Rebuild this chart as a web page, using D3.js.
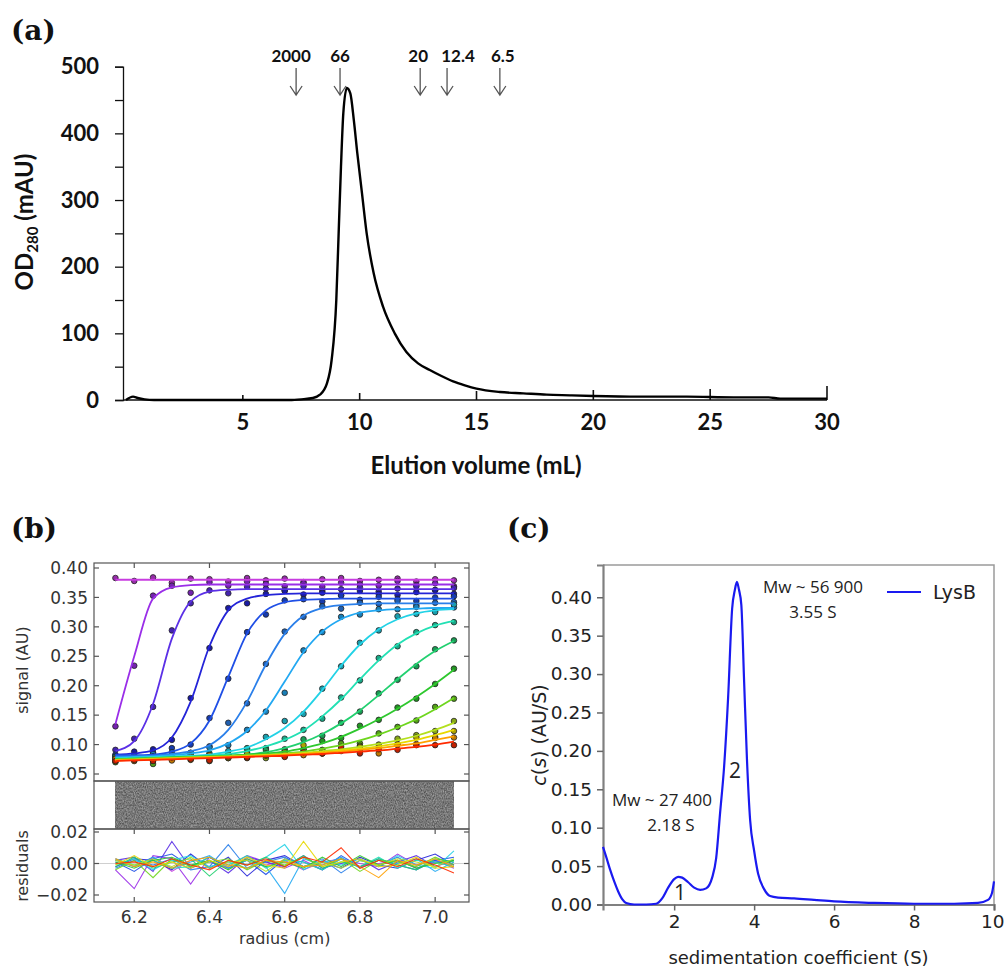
<!DOCTYPE html>
<html>
<head>
<meta charset="utf-8">
<script src="https://cdn.jsdelivr.net/npm/d3@7/dist/d3.min.js"></script>
<style>
  body { margin: 0; background: #fff; }
  svg { display: block; }
</style>
</head>
<body>
<div id="chart"></div>
<script>
// ---------- (a) size exclusion chromatogram ----------
const elutionVolume = [0, 0.3, 0.5, 0.8, 1.2, 3, 5, 6, 7, 7.5, 8, 8.3, 8.6, 8.8, 9.0, 9.1, 9.2, 9.3, 9.45, 9.6, 9.75, 9.9, 10.1, 10.3, 10.6, 11.0, 11.5, 12.0, 12.5, 13.0, 13.5, 14.0, 14.5, 15, 16, 17, 18, 19, 20, 22, 24, 26, 27.5, 28, 30];
const od280 = [0, 5, 3, 1, 0, 0, 0, 0, 0, 1, 3, 8, 25, 60, 150, 250, 350, 430, 468, 460, 420, 370, 310, 250, 190, 140, 100, 72, 55, 45, 36, 28, 22, 17, 12, 10, 8, 7, 6, 5, 5, 4, 4, 2, 2];
const markerVolumes = [7.28, 9.16, 12.59, 13.74, 16.0];
const markerLabels = ["2000", "66", "20", "12.4", "6.5"];
const elutionTicks = [5, 10, 15, 20, 25, 30];
const odTicks = [0, 100, 200, 300, 400, 500];
const odMinorTicks = [50, 150, 250, 350, 450];

// ---------- (b) sedimentation velocity scans ----------
const radius = [6.15, 6.20, 6.25, 6.30, 6.35, 6.40, 6.45, 6.50, 6.55, 6.60, 6.65, 6.70, 6.75, 6.80, 6.85, 6.90, 6.95, 7.00, 7.05];
const scanFits = [
  [0.380, 0.380, 0.380, 0.380, 0.380, 0.380, 0.380, 0.380, 0.380, 0.380, 0.380, 0.380, 0.380, 0.380, 0.380, 0.380, 0.380, 0.380, 0.380],
  [0.135, 0.250, 0.348, 0.367, 0.371, 0.372, 0.372, 0.372, 0.372, 0.372, 0.372, 0.372, 0.372, 0.372, 0.372, 0.372, 0.372, 0.372, 0.372],
  [0.089, 0.106, 0.169, 0.280, 0.343, 0.360, 0.363, 0.364, 0.364, 0.364, 0.364, 0.364, 0.364, 0.364, 0.364, 0.364, 0.364, 0.364, 0.364],
  [0.083, 0.085, 0.090, 0.112, 0.173, 0.267, 0.328, 0.348, 0.354, 0.356, 0.357, 0.357, 0.357, 0.357, 0.357, 0.357, 0.357, 0.357, 0.357],
  [0.082, 0.082, 0.083, 0.088, 0.102, 0.141, 0.215, 0.289, 0.328, 0.342, 0.346, 0.347, 0.348, 0.348, 0.348, 0.348, 0.348, 0.348, 0.348],
  [0.080, 0.080, 0.081, 0.084, 0.089, 0.099, 0.125, 0.173, 0.236, 0.288, 0.319, 0.332, 0.337, 0.339, 0.340, 0.340, 0.340, 0.340, 0.340],
  [0.078, 0.079, 0.080, 0.082, 0.085, 0.090, 0.102, 0.123, 0.158, 0.207, 0.257, 0.292, 0.313, 0.324, 0.328, 0.330, 0.331, 0.332, 0.332],
  [0.077, 0.078, 0.079, 0.080, 0.081, 0.083, 0.088, 0.095, 0.109, 0.128, 0.156, 0.193, 0.234, 0.270, 0.296, 0.313, 0.323, 0.328, 0.330],
  [0.076, 0.077, 0.078, 0.079, 0.080, 0.081, 0.084, 0.089, 0.097, 0.108, 0.124, 0.148, 0.177, 0.211, 0.243, 0.270, 0.289, 0.302, 0.310],
  [0.075, 0.076, 0.077, 0.078, 0.079, 0.080, 0.081, 0.083, 0.087, 0.094, 0.104, 0.118, 0.136, 0.158, 0.184, 0.211, 0.237, 0.259, 0.276],
  [0.075, 0.076, 0.077, 0.078, 0.079, 0.080, 0.081, 0.083, 0.085, 0.088, 0.094, 0.102, 0.113, 0.127, 0.143, 0.161, 0.181, 0.203, 0.227],
  [0.074, 0.075, 0.076, 0.077, 0.078, 0.079, 0.080, 0.082, 0.083, 0.085, 0.088, 0.093, 0.099, 0.107, 0.117, 0.129, 0.143, 0.160, 0.179],
  [0.074, 0.075, 0.076, 0.077, 0.078, 0.079, 0.080, 0.081, 0.082, 0.084, 0.086, 0.089, 0.092, 0.096, 0.101, 0.107, 0.115, 0.125, 0.137],
  [0.073, 0.074, 0.075, 0.076, 0.077, 0.078, 0.079, 0.080, 0.082, 0.083, 0.085, 0.087, 0.090, 0.093, 0.097, 0.102, 0.108, 0.116, 0.125],
  [0.073, 0.074, 0.075, 0.076, 0.077, 0.078, 0.079, 0.080, 0.081, 0.083, 0.084, 0.086, 0.088, 0.091, 0.094, 0.098, 0.102, 0.108, 0.114],
  [0.072, 0.073, 0.074, 0.075, 0.076, 0.077, 0.078, 0.079, 0.080, 0.081, 0.083, 0.084, 0.086, 0.088, 0.090, 0.093, 0.096, 0.100, 0.105]
];
// residuals in 1/1000 AU (data point minus fit)
const scanResidualsMilli = [
  [3, -2, 4, -5, 2, 1, -3, 3, -1, 2, -4, 1, 3, -2, 0, 2, -3, 1, -1],
  [-4, -16, 5, 3, -13, 4, -2, 5, 1, -3, 2, -4, 3, 0, -2, 6, -1, 2, -3],
  [2, 4, -5, 14, -3, 2, -6, 4, 1, -2, 5, -3, 0, 3, -4, 1, 5, -2, 2],
  [-2, 3, 2, -4, 6, -3, 4, -8, 2, 5, -2, 1, -3, 4, -1, -3, 2, 6, -1],
  [1, -5, 3, 6, -2, 4, -3, 2, -7, 3, 1, -4, 5, -2, 3, -1, -4, 2, 4],
  [-3, 2, -1, 3, -4, -2, 12, -3, 1, 4, -2, 3, -6, 2, -1, 4, -3, 1, 2],
  [2, -2, 4, -3, 1, 5, -3, 2, -2, -19, 3, -1, 4, -3, 2, 0, 3, -5, 1],
  [-1, 3, -4, 2, 5, -2, 1, -3, 4, 12, -4, 2, -1, 3, -2, 5, -1, -3, 8],
  [3, -1, 2, -3, -2, 4, -1, 5, -3, 2, 1, -4, 3, -2, 4, -3, 2, 1, -2],
  [-2, 4, -3, 1, 3, -8, 2, -1, 4, -2, 5, -3, 1, -2, 3, -1, -4, 3, 1],
  [1, -3, 2, 4, -1, 2, -4, 3, -2, 1, -3, 4, -2, 5, -1, 2, -3, 0, 2],
  [-4, 2, -9, 3, -2, 1, 3, -4, 2, -1, 4, -2, 3, -5, 2, 1, -2, 4, -1],
  [2, -1, 3, -2, 4, -3, 1, 2, -5, 3, -2, 1, -3, 2, -1, 3, 1, -2, 3],
  [-1, 5, -2, 1, -3, 2, -2, 4, -1, -3, 14, -2, 1, 3, -2, -1, 4, -3, -2],
  [3, -2, 1, -3, 2, 4, -1, -3, 2, 1, -2, -1, 3, -2, -9, 2, -1, 3, -2],
  [0, 1, -2, 3, -1, -4, 2, -1, 3, -2, 4, 1, 10, -3, 2, -2, 3, -1, -6]
];
const scanColors = ["#c83ce0", "#9a2ee8", "#5b30e6", "#2424d8", "#1f4fe6", "#2a7fea", "#22a8f2", "#22d2e6",
                    "#22e0b4", "#22d070", "#2ec82e", "#6ed61e", "#b4e01e", "#e8d800", "#ffa000", "#ff2a00"];
const signalTicks = [0.05, 0.10, 0.15, 0.20, 0.25, 0.30, 0.35, 0.40];
const residualTicks = [-0.02, 0.00, 0.02];
const radiusTicks = [6.2, 6.4, 6.6, 6.8, 7.0];

// ---------- (c) c(s) distribution ----------
const sedCoeff = [0.22, 0.3, 0.4, 0.5, 0.6, 0.7, 0.8, 1.0, 1.3, 1.55, 1.7, 1.85, 2.0, 2.1, 2.2, 2.35, 2.5, 2.65, 2.8, 2.95, 3.05, 3.15, 3.25, 3.35, 3.45, 3.52, 3.57, 3.62, 3.68, 3.75, 3.82, 3.9, 4.0, 4.1, 4.25, 4.4, 4.6, 5.0, 5.5, 6.0, 7.0, 8.0, 9.0, 9.6, 9.85, 9.95, 10.0];
const csValues = [0.075, 0.062, 0.045, 0.030, 0.017, 0.007, 0.002, 0.0, 0.0, 0.001, 0.008, 0.022, 0.033, 0.036, 0.035, 0.029, 0.022, 0.019, 0.021, 0.035, 0.06, 0.12, 0.18, 0.27, 0.385, 0.41, 0.42, 0.41, 0.39, 0.29, 0.19, 0.11, 0.07, 0.04, 0.02, 0.011, 0.009, 0.008, 0.006, 0.004, 0.002, 0.001, 0.001, 0.002, 0.006, 0.015, 0.03];
const sedTicks = [2, 4, 6, 8, 10];
const csTicks = [0.00, 0.05, 0.10, 0.15, 0.20, 0.25, 0.30, 0.35, 0.40];

const W = 1004, H = 969;
const svg = d3.select("#chart").append("svg").attr("width", W).attr("height", H);
const defs = svg.append("defs");

// panel letters
const letterFont = "'DejaVu Serif', serif";
[["(a)", 11, 40], ["(b)", 11, 538], ["(c)", 507, 538]].forEach(([t, x, y]) => {
  svg.append("text").attr("x", x).attr("y", y).text(t)
    .attr("font-family", letterFont).attr("font-weight", "bold").attr("font-size", 28).attr("fill", "#111");
});

// ================= panel (a) =================
(function () {
  const font = "Lato, 'Open Sans', sans-serif";
  const x = d3.scaleLinear().domain([0, 30]).range([126, 827]);
  const y = d3.scaleLinear().domain([0, 500]).range([400, 66.7]);
  const g = svg.append("g");

  // y axis
  const yAxis = d3.axisLeft(y).tickValues(odTicks).tickSize(8).tickPadding(16);
  const ya = g.append("g").attr("transform", "translate(123,0)").call(yAxis);
  ya.selectAll("text").attr("font-family", font).attr("font-weight", "bold").attr("font-size", 22).attr("fill", "#111");
  ya.select(".domain").attr("stroke", "#111").attr("stroke-width", 1.3);
  ya.selectAll(".tick line").attr("stroke", "#111").attr("stroke-width", 1.3);
  g.append("g").attr("transform", "translate(123,0)")
    .call(d3.axisLeft(y).tickValues(odMinorTicks).tickSize(8).tickFormat(""))
    .call(s => s.select(".domain").remove())
    .selectAll("line").attr("stroke", "#111").attr("stroke-width", 1.3);

  // x axis (ticks pointing up)
  g.append("line").attr("x1", 123).attr("x2", x(30)).attr("y1", y(0)).attr("y2", y(0))
    .attr("stroke", "#111").attr("stroke-width", 1.6);
  const tickH = [5, 7, 9, 10, 11, 14];
  g.selectAll(".xt").data(elutionTicks).join("line")
    .attr("x1", d => x(d)).attr("x2", d => x(d))
    .attr("y1", y(0)).attr("y2", (d, i) => y(0) - tickH[i])
    .attr("stroke", "#111").attr("stroke-width", 1.6);
  g.selectAll(".xl").data(elutionTicks).join("text")
    .attr("x", d => x(d)).attr("y", 430).attr("text-anchor", "middle")
    .attr("font-family", font).attr("font-weight", "bold").attr("font-size", 22).attr("fill", "#111")
    .text(d => d);

  // chromatogram
  const line = d3.line().x(d => x(d[0])).y(d => y(d[1])).curve(d3.curveMonotoneX);
  g.append("path").datum(d3.zip(elutionVolume, od280)).attr("d", line)
    .attr("fill", "none").attr("stroke", "#000").attr("stroke-width", 2.4);

  // size markers (labels nudged where they crowd)
  const labelNudge = [-5, 0, -2, 11, 3];
  markerVolumes.forEach((v, i) => {
    const mx = x(v);
    g.append("text").attr("x", mx + labelNudge[i]).attr("y", 62).attr("text-anchor", "middle")
      .attr("font-family", font).attr("font-weight", "bold").attr("font-size", 17).attr("fill", "#111")
      .text(markerLabels[i]);
    g.append("path").attr("d", `M${mx},68 L${mx},95 M${mx - 6},86 L${mx},95 L${mx + 6},86`)
      .attr("fill", "none").attr("stroke", "#555").attr("stroke-width", 1.3);
  });

  // axis titles
  g.append("text").attr("x", 476).attr("y", 474).attr("text-anchor", "middle")
    .attr("font-family", font).attr("font-weight", "bold").attr("font-size", 24).attr("fill", "#111")
    .text("Elution volume (mL)");
  const yt = g.append("text").attr("transform", "translate(33,222) rotate(-90)").attr("text-anchor", "middle")
    .attr("font-family", font).attr("font-weight", "bold").attr("font-size", 24).attr("fill", "#111");
  yt.append("tspan").text("OD");
  yt.append("tspan").attr("font-size", 15).attr("dy", 5).text("280");
  yt.append("tspan").attr("dy", -5).text(" (mAU)");
})();

// ================= panel (b) =================
(function () {
  const font = "'DejaVu Sans', sans-serif";
  const left = 94, right = 469;
  const topA = 563, botA = 781, botM = 829, botR = 902;
  const x = d3.scaleLinear().domain([6.093, 7.09]).range([left, right]);
  const y = d3.scaleLinear().domain([0.05, 0.40]).range([774, 568]);
  const yr = d3.scaleLinear().domain([-0.02, 0.02]).range([895, 832]);
  const g = svg.append("g");
  const frameCol = "#555";

  // noisy residual bitmap
  const f = defs.append("filter").attr("id", "grain").attr("x", 0).attr("y", 0).attr("width", 1).attr("height", 1)
    .attr("color-interpolation-filters", "sRGB");
  f.append("feTurbulence").attr("type", "fractalNoise").attr("baseFrequency", "0.9 0.6").attr("numOctaves", 2).attr("seed", 7).attr("result", "n");
  f.append("feColorMatrix").attr("in", "n").attr("type", "matrix")
    .attr("values", "0.5 0 0 0 0.22  0.5 0 0 0 0.22  0.5 0 0 0 0.22  0 0 0 0 1");
  g.append("rect").attr("x", x(6.15)).attr("y", botA).attr("width", x(7.05) - x(6.15)).attr("height", botM - botA)
    .attr("filter", "url(#grain)");

  // zero line in residual panel
  g.append("line").attr("x1", left).attr("x2", right).attr("y1", yr(0)).attr("y2", yr(0))
    .attr("stroke", "#cfcfcf").attr("stroke-width", 1);

  // dots then fits
  const line = d3.line().x((d, j) => x(radius[j])).y(d => y(d)).curve(d3.curveMonotoneX);
  scanFits.forEach((fit, i) => {
    const pts = fit.map((v, j) => [radius[j], v + scanResidualsMilli[i][j] / 1000]);
    g.append("g").selectAll("circle").data(pts).join("circle")
      .attr("cx", d => x(d[0])).attr("cy", d => y(d[1])).attr("r", 2.8)
      .attr("fill", d3.color(scanColors[i]).darker(0.8)).attr("stroke", "#222").attr("stroke-width", 0.8);
  });
  scanFits.forEach((fit, i) => {
    g.append("path").datum(fit).attr("d", line)
      .attr("fill", "none").attr("stroke", scanColors[i]).attr("stroke-width", 1.8);
  });

  // residual traces
  const rline = d3.line().x((d, j) => x(radius[j])).y(d => yr(d / 1000));
  scanResidualsMilli.forEach((r, i) => {
    g.append("path").datum(r).attr("d", rline)
      .attr("fill", "none").attr("stroke", scanColors[i]).attr("stroke-width", 1.1).attr("opacity", 0.9);
  });

  // frames
  [[topA, botA], [botA, botM], [botM, botR]].forEach(([t, b]) => {
    g.append("rect").attr("x", left).attr("y", t).attr("width", right - left).attr("height", b - t)
      .attr("fill", "none").attr("stroke", frameCol).attr("stroke-width", 1.2);
  });

  // inward ticks
  const tk = 5;
  radiusTicks.forEach(r => {
    [[topA, 1], [botM, 1], [botR, -1]].forEach(([yy, dir]) => {
      g.append("line").attr("x1", x(r)).attr("x2", x(r)).attr("y1", yy).attr("y2", yy + dir * tk)
        .attr("stroke", frameCol).attr("stroke-width", 1.2);
    });
  });
  signalTicks.forEach(v => {
    [[left, 1], [right, -1]].forEach(([xx, dir]) => {
      g.append("line").attr("x1", xx).attr("x2", xx + dir * tk).attr("y1", y(v)).attr("y2", y(v))
        .attr("stroke", frameCol).attr("stroke-width", 1.2);
    });
  });
  residualTicks.forEach(v => {
    [[left, 1], [right, -1]].forEach(([xx, dir]) => {
      g.append("line").attr("x1", xx).attr("x2", xx + dir * tk).attr("y1", yr(v)).attr("y2", yr(v))
        .attr("stroke", frameCol).attr("stroke-width", 1.2);
    });
  });

  // labels
  const fmt = d3.format(".2f");
  g.selectAll(".sl").data(signalTicks).join("text")
    .attr("x", 88).attr("y", d => y(d)).attr("dy", "0.36em").attr("text-anchor", "end")
    .attr("font-family", font).attr("font-size", 17).attr("fill", "#333").text(d => fmt(d));
  g.selectAll(".rl").data(residualTicks).join("text")
    .attr("x", 88).attr("y", d => yr(d)).attr("dy", "0.36em").attr("text-anchor", "end")
    .attr("font-family", font).attr("font-size", 17).attr("fill", "#333").text(d => fmt(d));
  g.selectAll(".xl").data(radiusTicks).join("text")
    .attr("x", d => x(d)).attr("y", 923).attr("text-anchor", "middle")
    .attr("font-family", font).attr("font-size", 17).attr("fill", "#333").text(d => d3.format(".1f")(d));
  g.append("text").attr("x", x(6.6)).attr("y", 944).attr("text-anchor", "middle")
    .attr("font-family", font).attr("font-size", 16).attr("fill", "#333").text("radius (cm)");
  g.append("text").attr("transform", "translate(28,670) rotate(-90)").attr("text-anchor", "middle")
    .attr("font-family", font).attr("font-size", 16).attr("fill", "#333").text("signal (AU)");
  g.append("text").attr("transform", "translate(28,866) rotate(-90)").attr("text-anchor", "middle")
    .attr("font-family", font).attr("font-size", 16).attr("fill", "#333").text("residuals");
})();

// ================= panel (c) =================
(function () {
  const font = "'DejaVu Sans', sans-serif";
  const annFont = "'Open Sans', sans-serif";
  const left = 603, right = 994, top = 565, bottom = 904.5;
  const x = d3.scaleLinear().domain([0.22, 10]).range([left, right]);
  const y = d3.scaleLinear().domain([0, 0.442]).range([bottom, top]);
  const g = svg.append("g");

  // frame top/right
  g.append("path").attr("d", `M${left},${top} L${right},${top} L${right},${bottom}`)
    .attr("fill", "none").attr("stroke", "#9a9a9a").attr("stroke-width", 1.5);

  const yAxis = d3.axisLeft(y).tickValues(csTicks).tickSize(6).tickPadding(5).tickFormat(d3.format(".2f"));
  const ya = g.append("g").attr("transform", `translate(${left},0)`).call(yAxis);
  const xAxis = d3.axisBottom(x).tickValues(sedTicks).tickSize(6).tickPadding(4);
  const xa = g.append("g").attr("transform", `translate(0,${bottom})`).call(xAxis);
  [ya, xa].forEach(a => {
    a.select(".domain").attr("stroke", "#808080").attr("stroke-width", 2.2);
    a.selectAll(".tick line").attr("stroke", "#666").attr("stroke-width", 1.5);
    a.selectAll("text").attr("font-family", font).attr("font-size", 18.5).attr("fill", "#222");
  });
  // keep the last label inside the page edge
  xa.selectAll(".tick text").filter(d => d === 10).attr("text-anchor", "end").attr("x", 10);

  const line = d3.line().x(d => x(d[0])).y(d => y(d[1])).curve(d3.curveMonotoneX);
  g.append("path").datum(d3.zip(sedCoeff, csValues)).attr("d", line)
    .attr("fill", "none").attr("stroke", "#1a1af0").attr("stroke-width", 2.2);

  // legend
  g.append("line").attr("x1", 887).attr("x2", 921).attr("y1", 592).attr("y2", 592)
    .attr("stroke", "#1a1af0").attr("stroke-width", 2.2);
  g.append("text").attr("x", 933).attr("y", 592).attr("dy", "0.36em")
    .attr("font-family", font).attr("font-size", 19).attr("fill", "#222").text("LysB");

  // annotations
  const ann = (t, xx, yy, size) => g.append("text").attr("x", xx).attr("y", yy).attr("text-anchor", "middle")
    .attr("font-family", annFont).attr("font-size", size).attr("fill", "#222").text(t);
  ann("Mw ~ 56 900", 813, 593, 17);
  ann("3.55 S", 813, 618, 17);
  ann("Mw ~ 27 400", 662, 806, 17);
  ann("2.18 S", 671, 831, 17);
  ann("1", 680, 900, 21);
  ann("2", 735, 778, 21);

  // axis titles
  g.append("text").attr("x", (left + right) / 2).attr("y", 964).attr("text-anchor", "middle")
    .attr("font-family", font).attr("font-size", 18).attr("fill", "#222").text("sedimentation coefficient (S)");
  const yt = g.append("text").attr("transform", "translate(546,735) rotate(-90)").attr("text-anchor", "middle")
    .attr("font-family", font).attr("font-size", 19).attr("fill", "#222");
  yt.append("tspan").attr("font-style", "italic").text("c");
  yt.append("tspan").text("(");
  yt.append("tspan").attr("font-style", "italic").text("s");
  yt.append("tspan").text(") (AU/S)");
})();
</script>
</body>
</html>
